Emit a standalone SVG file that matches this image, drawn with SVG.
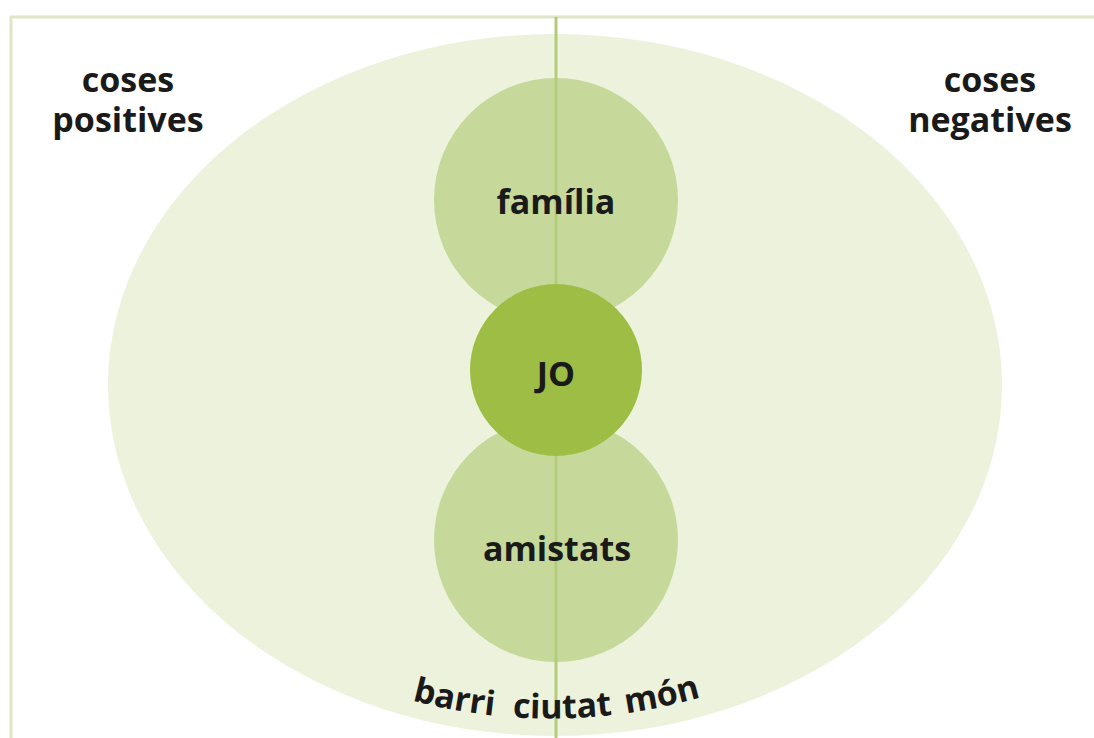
<svg xmlns="http://www.w3.org/2000/svg" width="1094" height="738" viewBox="0 0 1094 738">
<defs>
<style>
.t{font-family:"Open Sans","Liberation Sans",sans-serif;font-weight:bold;font-size:34px;fill:#1a1a1a;text-anchor:middle}
.ring{fill:#c6d99a}
</style>
<path id="arc" d="M 410 700 Q 560 740 712 694"/>
</defs>
<rect width="1094" height="738" fill="#ffffff"/>
<g id="frame">
<polyline points="11,738 11,17 1094,17" fill="none" stroke="#dfe5c6" stroke-width="3"/>
</g>
<g id="world">
<ellipse cx="555" cy="385" rx="447" ry="351" fill="#edf2dc"/>
</g>
<g id="familia">
<circle class="ring" cx="556" cy="200" r="122"/>
</g>
<g id="amistats">
<circle class="ring" cx="556" cy="540" r="122"/>
</g>
<g id="connectors">
<line x1="556" y1="17" x2="556" y2="738" stroke="#b3cc7c" stroke-width="3"/>
</g>
<g id="jo">
<circle cx="556" cy="370" r="86" fill="#9dbd44"/>
<text class="t" x="556" y="386">JO</text>
</g>
<g id="labels">
<text class="t" x="556" y="214">família</text>
<text class="t" x="557" y="561">amistats</text>
<text class="t" x="128" y="92">coses</text>
<text class="t" x="128" y="132">positives</text>
<text class="t" x="990" y="92">coses</text>
<text class="t" x="990" y="132">negatives</text>
</g>
<g id="scale">
<text class="t" style="text-anchor:start"><textPath href="#arc" startOffset="2">barri</textPath></text>
<text class="t" style="text-anchor:start"><textPath href="#arc" startOffset="104">ciutat</textPath></text>
<text class="t" style="text-anchor:start"><textPath href="#arc" startOffset="218">món</textPath></text>
</g>
</svg>
